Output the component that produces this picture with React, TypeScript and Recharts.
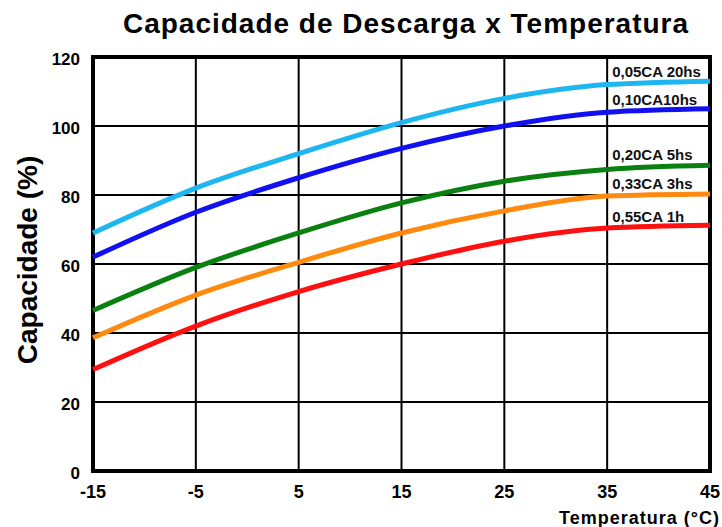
import { LineChart, Line, XAxis, YAxis, CartesianGrid, ReferenceArea, LabelList } from "recharts";

const temperatures = [-15, -5, 5, 15, 25, 35, 45];
const c005 = [69, 82, 92, 101, 108, 112, 113];
const c010 = [62, 75, 85, 93.5, 100, 104, 105];
const c020 = [46.5, 59, 69, 77.7, 84, 87.4, 88.6];
const c033 = [38.6, 51, 60.5, 69, 75.4, 79.7, 80.3];
const c055 = [29.4, 42, 52, 60, 66.6, 70.4, 71.2];

const xTicks = [-15, -5, 5, 15, 25, 35, 45];
const yTicks = [0, 20, 40, 60, 80, 100, 120];

const seriesNames = ["0,05CA 20hs", "0,10CA10hs", "0,20CA 5hs", "0,33CA 3hs", "0,55CA 1h"];
const seriesKeys = ["c005", "c010", "c020", "c033", "c055"];
const seriesColors = ["#1EB6F0", "#1010F0", "#0A8010", "#FF8A10", "#FF1010"];
const labelOffsets = [-13, -12, -15, -12, -11];

const data = temperatures.map((t, i) => ({
  t,
  c005: c005[i],
  c010: c010[i],
  c020: c020[i],
  c033: c033[i],
  c055: c055[i],
}));

const font = "'Liberation Sans', Arial, sans-serif";

function SeriesLabel(props: any) {
  const { x, y, index, name, offset } = props;
  if (index !== 5) return null;
  return (
    <text x={x + 5} y={y + offset} dy="0.35em" fontSize={15} fontWeight="bold" fontFamily={font} fill="#111">
      {name}
    </text>
  );
}

export default function App() {
  return (
    <div style={{ position: "absolute", left: 0, top: 0, width: 722, height: 527, background: "#fff" }}>
      <div
        style={{
          position: "absolute",
          left: 0,
          width: 812,
          top: 8,
          textAlign: "center",
          fontFamily: font,
          fontWeight: "bold",
          fontSize: 28,
          letterSpacing: 1,
          color: "#000",
        }}
      >
        Capacidade de Descarga x Temperatura
      </div>
      <LineChart width={722} height={527} data={data} margin={{ top: 57, right: 12, bottom: 26, left: 43 }}>
        <CartesianGrid stroke="#000" strokeWidth={2} />
        <XAxis
          dataKey="t"
          type="number"
          domain={[-15, 45]}
          ticks={xTicks}
          height={30}
          tickSize={0}
          tickMargin={14}
          axisLine={false}
          tick={{ fill: "#000", fontSize: 18, fontWeight: "bold", fontFamily: font }}
        />
        <YAxis
          domain={[0, 120]}
          ticks={yTicks}
          width={50}
          tickSize={0}
          tickMargin={13}
          axisLine={false}
          tick={{ fill: "#000", fontSize: 17, fontWeight: "bold", fontFamily: font, dy: 2 }}
        />
        <ReferenceArea x1={-15} x2={45} y1={0} y2={120} fill="none" stroke="#000" strokeWidth={4} />
        {seriesKeys.map((k, i) => (
          <Line
            key={k}
            dataKey={k}
            type="monotone"
            stroke={seriesColors[i]}
            strokeWidth={5}
            dot={false}
            isAnimationActive={false}
          >
            <LabelList
              dataKey={k}
              content={(p: any) => <SeriesLabel {...p} name={seriesNames[i]} offset={labelOffsets[i]} />}
            />
          </Line>
        ))}
        <text x={720} y={524} textAnchor="end" fontSize={18} fontWeight="bold" fontFamily={font} fill="#000" letterSpacing={1}>
          Temperatura (°C)
        </text>
        <text
          x={37}
          y={260}
          textAnchor="middle"
          transform="rotate(-90 37 260)"
          fontSize={28}
          fontWeight="bold"
          fontFamily={font}
          fill="#000"
        >
          Capacidade (%)
        </text>
      </LineChart>
    </div>
  );
}
